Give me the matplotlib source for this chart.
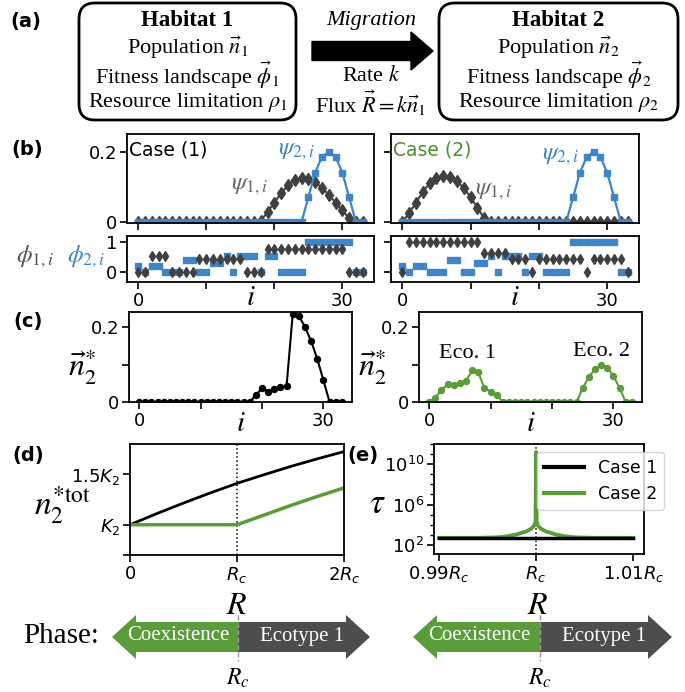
import numpy as np
import matplotlib.pyplot as plt
from matplotlib.patches import FancyBboxPatch, FancyArrow
from matplotlib.ticker import FixedLocator, LogLocator, NullFormatter

W, H = 685, 692
GREEN = '#5a9c3a'
BLUE = '#3d85c6'
DARK = '#404040'
SERIF = 'Liberation Serif'

# --- values ---
site = np.arange(34)

psi1_case1 = [0, 0, 0, 0, 0, 0, 0, 0, 0, 0, 0, 0, 0, 0, 0, 0, 0, 0,
              0.003, 0.028, 0.055, 0.082, 0.104, 0.118, 0.125, 0.123, 0.113,
              0.097, 0.077, 0.055, 0.033, 0.01, 0, 0]
psi1_case2 = [0, 0.025, 0.055, 0.085, 0.11, 0.125, 0.13, 0.127, 0.115, 0.097,
              0.07, 0.04, 0.01, 0, 0, 0, 0, 0, 0, 0, 0, 0, 0, 0, 0, 0, 0,
              0, 0, 0, 0, 0, 0, 0]
psi2 = [0, 0, 0, 0, 0, 0, 0, 0, 0, 0, 0, 0, 0, 0, 0, 0, 0, 0, 0, 0, 0, 0,
        0, 0, 0, 0.07, 0.14, 0.185, 0.2, 0.185, 0.14, 0.07, 0, 0]

phi1_case1 = [0, 0, 0.55, 0.55, 0.55, 0, 0, 0, 0, 0.45, 0.45, 0.45, 0.45,
              0.45, 0.45, 0.45, 0, 0, 0, 0.78, 0.78, 0.78, 0.78, 0.78, 0.78,
              0.78, 0.78, 0.78, 0.78, 0.78, 0.78, 0, 0, 0]
phi1_case2 = [0, 1, 1, 1, 1, 1, 1, 1, 1, 1, 1, 1, 0.62, 0.62, 0.62, 0.62,
              0.45, 0.45, 0.45, 0, 0.45, 0.45, 0.45, 0.45, 0.45, 0.45, 0.45,
              0, 0.45, 0.45, 0.45, 0.45, 0.45, 0]
phi2 = [0.2, 0, 0.2, 0.2, 0, 0, 0, 0.4, 0.4, 0, 0, 0.3, 0.3, 0.55, 0, 0.55,
        0.55, 0.55, 0, 0.55, 0.55, 0, 0, 0, 0, 1, 1, 1, 1, 1, 1, 1, 0, 0]

n2_case1 = [0, 0, 0, 0, 0, 0, 0, 0, 0, 0, 0, 0, 0, 0, 0, 0, 0, 0, 0,
            0.018, 0.037, 0.028, 0.034, 0.039, 0.043, 0.234, 0.23, 0.2,
            0.162, 0.115, 0.058, 0, 0, 0]
n2_case2 = [0, 0.012, 0.031, 0.048, 0.046, 0.052, 0.055, 0.085, 0.079,
            0.037, 0.028, 0.019, 0, 0, 0, 0, 0, 0, 0, 0, 0, 0, 0, 0, 0,
            0.037, 0.067, 0.088, 0.099, 0.092, 0.07, 0.037, 0, 0]

R_d = [0, 0.25, 0.5, 0.75, 1.0, 1.25, 1.5, 1.75, 2.0]
ntot_case1 = [1.0, 1.11, 1.215, 1.315, 1.41, 1.495, 1.577, 1.653, 1.725]
ntot_case2 = [1.0, 1.0, 1.0, 1.0, 1.0, 1.095, 1.19, 1.28, 1.365]

R_e = [0.99, 0.994, 0.996, 0.997, 0.998, 0.999, 0.9995, 0.9998, 0.99995,
       1.0, 1.00005, 1.0002, 1.0005, 1.001, 1.002, 1.003, 1.004, 1.006, 1.01]
tau_case1 = [500] * len(R_e)
tau_case2 = [500, 500, 560, 700, 1100, 2200, 4000, 8000, 2e4, 1.6e11, 2e4,
             8000, 4000, 2200, 1100, 700, 560, 500, 500]

fig = plt.figure(figsize=(W / 100, H / 100), dpi=100)


def px_axes(x0, y0, x1, y1):
    return fig.add_axes([x0 / W, 1 - y1 / H, (x1 - x0) / W, (y1 - y0) / H])


def style(ax):
    for s in ax.spines.values():
        s.set_linewidth(1.3)
    ax.tick_params(direction='out', length=5, width=1.2, labelsize=13, pad=2)


# overlay in pixel coordinates for the schematic parts
ov = px_axes(0, 0, W, H)
ov.set_xlim(0, W)
ov.set_ylim(H, 0)
ov.axis('off')

# --- (a) ---
for x0, x1 in [(79, 296), (439, 678)]:
    ov.add_patch(FancyBboxPatch((x0, 3), x1 - x0, 117,
                                boxstyle='round,pad=0,rounding_size=16',
                                lw=2, ec='black', fc='white'))
for xc, k in [(187.5, 1), (558.5, 2)]:
    ov.text(xc, 21, f'Habitat {k}', ha='center', va='center', fontsize=16.5,
            fontweight='bold', family=SERIF)
    lines = [rf'Population $\vec{{n}}_{k}$',
             rf'Fitness landscape $\vec{{\phi}}_{k}$',
             rf'Resource limitation $\rho_{k}$']
    for y, s in zip([48, 75, 102], lines):
        ov.text(xc, y, s, ha='center', va='center', fontsize=16,
                family=SERIF, math_fontfamily='stix')
ov.add_patch(FancyArrow(312, 51, 121, 0, width=19, head_width=38,
                        head_length=22, length_includes_head=True,
                        color='black'))
ov.text(371, 20, 'Migration', ha='center', va='center', fontsize=16,
        style='italic', family=SERIF)
ov.text(371, 76, r'Rate $k$', ha='center', va='center', fontsize=16,
        family=SERIF, math_fontfamily='stix')
ov.text(371, 103, r'Flux $\vec{R}=k\vec{n}_1$', ha='center', va='center',
        fontsize=16, family=SERIF, math_fontfamily='stix')

for s, x, y in [('(a)', 26, 22), ('(b)', 27, 150), ('(c)', 28, 322),
                ('(d)', 28, 455), ('(e)', 363, 455)]:
    ov.text(x, y, s, ha='center', va='center', fontsize=14,
            fontweight='bold')

# --- (b) ---
for k, (x0, x1) in enumerate([(127, 374), (391, 639)]):
    ax = px_axes(x0, 134, x1, 223)
    psi1 = psi1_case1 if k == 0 else psi1_case2
    ax.plot(site, psi1, '-d', color=DARK, ms=6, lw=1.5)
    ax.plot(site, psi2, '-s', color=BLUE, ms=4.5, lw=1.6)
    ax.set_xlim(-1.65, 34.65)
    ax.set_ylim(-0.003, 0.25)
    ax.set_xticks([0, 10, 20, 30])
    ax.set_xticklabels([])
    ax.set_yticks([0, 0.2])
    ax.set_yticklabels(['0', '0.2'] if k == 0 else [])
    style(ax)
    if k == 0:
        ax.text(0.01, 0.93, 'Case (1)', transform=ax.transAxes, fontsize=13.5,
                va='top')
        ax.text(16.4, 0.105, r'$\psi_{1,i}$', color='#666666', fontsize=18,
                ha='center', va='center', math_fontfamily='stix')
        ax.text(23.2, 0.205, r'$\psi_{2,i}$', color=BLUE, fontsize=18,
                ha='center', va='center', math_fontfamily='stix')
    else:
        ax.text(0.01, 0.93, 'Case (2)', transform=ax.transAxes, fontsize=13.5,
                va='top', color='#4a8f30')
        ax.text(13.3, 0.09, r'$\psi_{1,i}$', color='#666666', fontsize=18,
                ha='center', va='center', math_fontfamily='stix')
        ax.text(23.1, 0.19, r'$\psi_{2,i}$', color=BLUE, fontsize=18,
                ha='center', va='center', math_fontfamily='stix')

    axp = px_axes(x0, 236, x1, 282)
    phi1 = phi1_case1 if k == 0 else phi1_case2
    axp.plot(site, phi2, 's', color=BLUE, ms=4.2, ls='none')
    axp.plot(site, phi1, 'd', color=DARK, ms=5.5, ls='none')
    axp.set_xlim(-1.65, 34.65)
    axp.set_ylim(-0.33, 1.2)
    axp.set_xticks([0, 10, 20, 30])
    axp.set_xticklabels(['0', '', '', '30'])
    axp.set_yticks([0, 1])
    axp.set_yticklabels(['0', '1'] if k == 0 else [])
    style(axp)
    ov.text((x0 + x1) / 2, 297, r'$i$', ha='center', va='center',
            fontsize=21, math_fontfamily='stix')

ov.text(35, 257, r'$\phi_{1,i}$', color='#555555', fontsize=18,
        ha='center', va='center', math_fontfamily='stix')
ov.text(86, 257, r'$\phi_{2,i}$', color=BLUE, fontsize=18,
        ha='center', va='center', math_fontfamily='stix')

# --- (c) ---
for k, (x0, x1) in enumerate([(129, 352), (419, 642)]):
    ax = px_axes(x0, 312, x1, 402)
    if k == 0:
        ax.plot(site, n2_case1, '-o', color='black', ms=4.3, lw=1.5)
    else:
        ax.plot(site, n2_case2, '-o', color=GREEN, ms=4.3, lw=1.5)
        ax.text(6.3, 0.13, 'Eco. 1', ha='center', va='center', fontsize=16,
                family=SERIF)
        ax.text(28, 0.135, 'Eco. 2', ha='center', va='center', fontsize=16,
                family=SERIF)
    ax.set_xlim(-1.65, 34.65)
    ax.set_ylim(0, 0.24)
    ax.set_xticks([0, 10, 20, 30])
    ax.set_xticklabels(['0', '', '', '30'])
    ax.set_yticks([0, 0.1, 0.2])
    ax.set_yticklabels(['0', '', '0.2'])
    style(ax)
    ov.text((x0 + x1) / 2, 423, r'$i$', ha='center', va='center',
            fontsize=21, math_fontfamily='stix')
    ov.text(x0 - 46, 366, r'$\vec{n}_2^{*}$', ha='center', va='center',
            fontsize=23, math_fontfamily='stix')

# --- (d) ---
ax = px_axes(130, 444, 344, 555)
ax.axvline(1.0, color='black', ls=':', lw=1.1)
ax.plot(R_d, ntot_case1, color='black', lw=2)
ax.plot(R_d, ntot_case2, color=GREEN, lw=2.5)
ax.set_xlim(0, 2)
ax.set_ylim(0.7, 1.8)
ax.set_xticks([0, 1, 2])
ax.set_xticklabels(['0', r'$R_c$', r'$2R_c$'])
ax.set_yticks([0.7, 1.0, 1.5])
ax.set_yticklabels(['', r'$K_2$', r'$1.5K_2$'])
style(ax)
ov.text(63, 505, r'$n_2^{*\mathrm{tot}}$', ha='center', va='center',
        fontsize=24, math_fontfamily='stix')
ov.text(237, 606, r'$R$', ha='center', va='center', fontsize=23,
        math_fontfamily='stix')

# --- (e) ---
ax = px_axes(434, 444, 644, 554)
ax.axvline(1.0, color='black', ls=':', lw=1.1)
ax.plot(R_e, tau_case2, color=GREEN, lw=2.8, label='Case 2')
ax.plot(R_e, tau_case1, color='black', lw=2.5, label='Case 1')
ax.set_yscale('log')
ax.set_ylim(10 ** 1.1, 1e12)
ax.set_xlim(0.9895, 1.0111)
ax.yaxis.set_major_locator(FixedLocator([1e2, 1e6, 1e10]))
ax.yaxis.set_minor_locator(LogLocator(base=10, subs=(1.0,), numticks=30))
ax.yaxis.set_minor_formatter(NullFormatter())
ax.set_xticks([0.99, 1.0, 1.01])
ax.set_xticklabels([r'$0.99R_c$', r'$R_c$', r'$1.01R_c$'])
style(ax)
ax.tick_params(which='minor', length=3, width=1)
hnd, lab = ax.get_legend_handles_labels()
leg = ax.legend(hnd[::-1], lab[::-1], loc='upper right',
                bbox_to_anchor=(664 / W, 1 - 452 / H),
                bbox_transform=fig.transFigure, fontsize=12.5,
                handlelength=2.3, borderaxespad=0, labelspacing=0.45)
for ln in leg.get_lines():
    ln.set_linewidth(3)
ov.text(377, 503, r'$\tau$', ha='center', va='center', fontsize=25,
        fontweight='bold', math_fontfamily='stix')
ov.text(538, 606, r'$R$', ha='center', va='center', fontsize=23,
        math_fontfamily='stix')

# --- phase bars ---
ov.text(61, 636, 'Phase:', ha='center', va='center', fontsize=21,
        family=SERIF)
for left, mid, right in [(112, 238, 370), (413, 540, 672)]:
    ov.add_patch(FancyArrow(mid, 637, left - mid, 0, width=30,
                            head_width=44, head_length=24,
                            length_includes_head=True, fc=GREEN, ec='none'))
    ov.add_patch(FancyArrow(mid, 637, right - mid, 0, width=30,
                            head_width=44, head_length=24,
                            length_includes_head=True, fc='#4d4d4d',
                            ec='none'))
    ov.plot([mid, mid], [615, 661], color='#9a9a9a', ls='--', lw=1)
    ov.text((left + mid) / 2 + 3, 636, 'Coexistence', ha='center',
            va='center', fontsize=15, color='white', family=SERIF)
    ov.text((mid + right) / 2 - 2, 636, 'Ecotype 1', ha='center',
            va='center', fontsize=15, color='white', family=SERIF)
    ov.text(mid, 678, r'$R_c$', ha='center', va='center', fontsize=17,
            math_fontfamily='stix')

fig.savefig('out.png', dpi=100)
